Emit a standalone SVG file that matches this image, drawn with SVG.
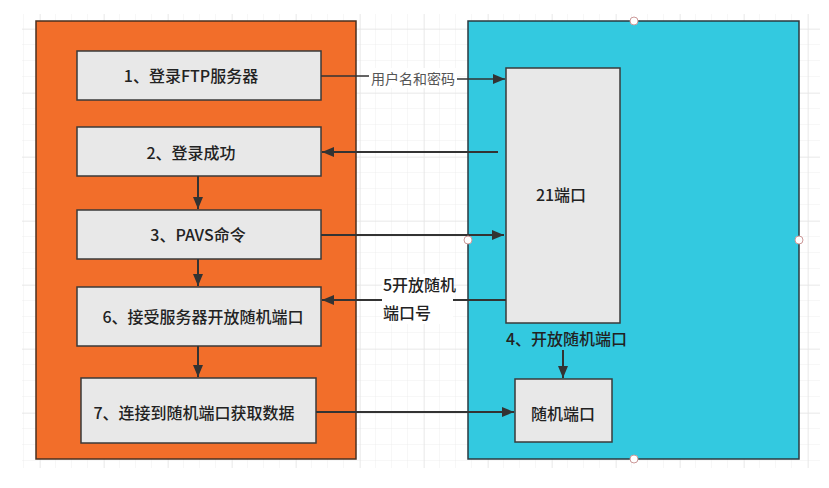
<svg xmlns="http://www.w3.org/2000/svg" width="829" height="488" viewBox="0 0 829 488">
<style>
text{font-family:"Noto Sans CJK SC","Noto Sans",sans-serif;fill:#222;font-size:16px;font-weight:500}
.c{text-anchor:middle}
.box{fill:#e8e8e8;stroke:#3a3a3a;stroke-width:1.5}
.con{fill:none;stroke:#333;stroke-width:2}
.lbl{font-size:14px;fill:#555;font-weight:400}
.h{fill:#fff;stroke:#c99;stroke-width:1}
</style>
<defs>
<pattern id="minor" width="16" height="16" patternUnits="userSpaceOnUse" x="8" y="13">
<path d="M16 0V16M0 16H16" fill="none" stroke="#eeeeee" stroke-width="1"/>
</pattern>
<pattern id="major" width="64" height="64" patternUnits="userSpaceOnUse" x="40" y="29">
<path d="M0 0V64M0 0H64" fill="none" stroke="#e2e2e2" stroke-width="1"/>
</pattern>
<marker id="arr" markerWidth="12" markerHeight="10" refX="12" refY="5" orient="auto" markerUnits="userSpaceOnUse">
<path d="M0,0 L12,5 L0,10 Z" fill="#333"/>
</marker>
</defs>
<rect width="829" height="488" fill="#fff"/>
<rect x="22" y="14" width="798" height="454" fill="url(#minor)"/>
<rect x="22" y="14" width="798" height="454" fill="url(#major)"/>

<g id="client">
<rect x="36" y="21" width="320" height="438" fill="#f26e2a" stroke="#4a3020" stroke-width="1.5"/>
</g>
<g id="server">
<rect x="468" y="21" width="331" height="438" fill="#33c9e0" stroke="#2b3a40" stroke-width="1.5"/>
</g>

<g id="step1"><rect class="box" x="77" y="51" width="244" height="49"/><text x="191" y="82" class="c">1、登录FTP服务器</text></g>
<g id="step2"><rect class="box" x="77" y="127" width="244" height="49"/><text x="191" y="159" class="c">2、登录成功</text></g>
<g id="step3"><rect class="box" x="77" y="210" width="244" height="49"/><text x="198" y="241" class="c">3、PAVS命令</text></g>
<g id="step6"><rect class="box" x="77" y="287" width="244" height="59"/><text x="203" y="323" class="c">6、接受服务器开放随机端口</text></g>
<g id="step7"><rect class="box" x="81" y="378" width="235" height="65"/><text x="194" y="419" class="c">7、连接到随机端口获取数据</text></g>
<g id="port21"><rect class="box" x="506" y="68" width="114" height="255"/><text x="561" y="201" class="c">21端口</text></g>
<g id="randport"><rect class="box" x="515" y="379" width="97" height="63"/><text x="563" y="420" class="c">随机端口</text></g>

<g id="connectors">
<path class="con" style="stroke-width:1.5" d="M321,76 H413 V79 H505" marker-end="url(#arr)"/>
<rect x="369" y="68" width="88" height="20" fill="#fff"/>
<text x="413" y="84" class="c lbl">用户名和密码</text>
<path class="con" d="M498,152 H322" marker-end="url(#arr)"/>
<path class="con" d="M321,235 H504" marker-end="url(#arr)"/>
<path class="con" d="M506,300 H322" marker-end="url(#arr)"/>
<rect x="382" y="274" width="71" height="50" fill="#fff"/>
<text x="383" y="291">5开放随机</text>
<text x="383" y="319">端口号</text>
<path class="con" d="M316,412 H514" marker-end="url(#arr)"/>
<path class="con" d="M198,176 V209" marker-end="url(#arr)"/>
<path class="con" d="M198,259 V286" marker-end="url(#arr)"/>
<path class="con" d="M198,346 V377" marker-end="url(#arr)"/>
<path class="con" d="M563,350 V378" marker-end="url(#arr)"/>
</g>
<text x="506" y="345">4、开放随机端口</text>

<g id="handles">
<circle class="h" cx="634" cy="21" r="4"/>
<circle class="h" cx="468" cy="240" r="4"/>
<circle class="h" cx="799" cy="240" r="4"/>
<circle class="h" cx="634" cy="459" r="4"/>
</g>
</svg>
